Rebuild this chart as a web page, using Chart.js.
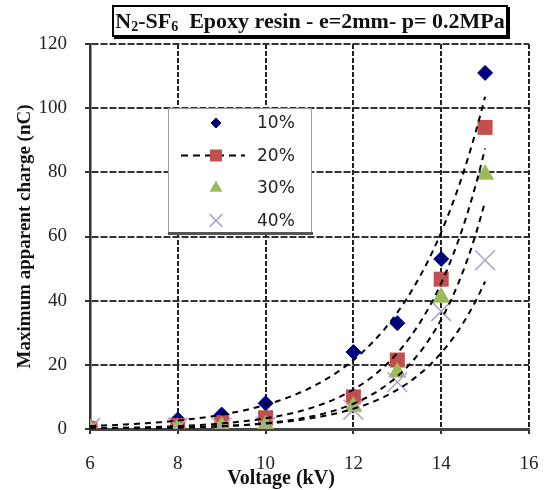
<!DOCTYPE html>
<html>
<head>
<meta charset="utf-8">
<script src="https://cdn.jsdelivr.net/npm/chart.js@4.4.1/dist/chart.umd.min.js"></script>
<style>
  body { margin: 0; background: #fff; }
  #wrap { position: relative; width: 545px; height: 490px; }
  #title {
    position: absolute; left: 112px; top: 5px; width: 396px; height: 32px;
    box-sizing: border-box; border: 2px solid #000; box-shadow: 2px 2px 0 #000;
    font: bold 22px "Liberation Serif", serif; text-align: center; line-height: 28px;
    color: #111; white-space: nowrap;
  }
  #title sub { font-size: 14px; vertical-align: -3px; line-height: 0; }
  #xtitle {
    position: absolute; left: 181px; top: 465px; width: 200px; text-align: center;
    font: bold 20px "Liberation Serif", serif; line-height: 24px; color: #111;
  }
</style>
</head>
<body>
<div id="wrap">
  <canvas id="chart" width="545" height="490"></canvas>
  <div id="title">N<sub>2</sub>-SF<sub>6</sub>&nbsp; Epoxy resin - e=2mm- p= 0.2MPa</div>
  <div id="xtitle">Voltage (kV)</div>
</div>
<script>
// voltage (kV) and maximum apparent charge (nC) for each SF6 content
var voltages = [6, 8, 9, 10, 12, 13, 14, 15];
var q10 = [0.8, 3, 4.5, 8, 24, 33, 53, 111];
var q20 = [0.2, 1.1, 2, 3.5, 10, 21.5, 46.7, 94];
var q30 = [0.15, 0.35, 0.8, 1.2, 7, 17.7, 41, 79.3];
var q40 = [0.3, 0.4, 0.45, 0.7, 6, 14.6, 36.7, 52.6];
var seriesNames = ["10%", "20%", "30%", "40%"];
var xTicks = [6, 8, 10, 12, 14, 16];
var yTicks = [0, 20, 40, 60, 80, 100, 120];

// exponential trendline (least squares on ln y), like Excel
function expFit(xs, ys) {
    var n = xs.length, sx = 0, sy = 0, sxx = 0, sxy = 0;
    for (var i = 0; i < n; i++) {
        var ly = Math.log(ys[i]);
        sx += xs[i]; sy += ly; sxx += xs[i] * xs[i]; sxy += xs[i] * ly;
    }
    var b = (n * sxy - sx * sy) / (n * sxx - sx * sx);
    var a = Math.exp((sy - b * sx) / n);
    return function(x) { return a * Math.exp(b * x); };
}

function points(ys) {
    return voltages.map(function(v, i) { return {x: v, y: ys[i]}; });
}

function trend(ys) {
    var f = expFit(voltages, ys);
    var out = [];
    var x0 = voltages[0], x1 = voltages[voltages.length - 1];
    for (var k = 0; k <= 90; k++) {
        var x = x0 + (x1 - x0) * k / 90;
        out.push({x: x, y: f(x)});
    }
    return out;
}

var styles = [
    {pointStyle: 'rectRot', radius: 7.5, lr: 5, color: '#00007F', width: 1},
    {pointStyle: 'rect', radius: 10.6, lr: 8.5, color: '#C0504D', width: 0},
    {pointStyle: 'triangle', radius: 10.5, lr: 7.5, color: '#9BBB59', width: 0},
    {pointStyle: 'crossRot', radius: 14, lr: 9, color: '#B3A2C7', width: 1.5}
];
var allSeries = [q10, q20, q30, q40];

var datasets = [];
allSeries.forEach(function(s) {
    datasets.push({
        data: trend(s), showLine: true, pointRadius: 0, borderColor: '#000',
        borderWidth: 2, borderDash: [6, 5], tension: 0, order: 0
    });
});
for (var i = 3; i >= 0; i--) {
    datasets.push({
        label: seriesNames[i], data: points(allSeries[i]), showLine: false,
        pointStyle: styles[i].pointStyle, pointRadius: styles[i].radius,
        pointBackgroundColor: styles[i].color, pointBorderColor: styles[i].color,
        pointBorderWidth: styles[i].width, order: 4 - i
    });
}

var boxLegend = {
    id: 'boxLegend',
    afterDatasetsDraw: function(chart) {
        var ctx = chart.ctx;
        var L = 168, T = 108, W = 144, H = 126;
        ctx.save();
        ctx.fillStyle = '#fff';
        ctx.fillRect(L, T, W, H);
        ctx.strokeStyle = '#9a9a9a';
        ctx.lineWidth = 1;
        ctx.strokeRect(L + 0.5, T + 0.5, W - 1, H - 1);
        ctx.fillStyle = '#555';
        ctx.fillRect(L, T + H - 2, W + 1, 3);
        for (var i = 0; i < 4; i++) {
            var y = T + 15 + i * 32.5;
            var mx = L + 48;
            if (i === 1) {
                ctx.strokeStyle = '#000';
                ctx.lineWidth = 2;
                ctx.setLineDash([7, 5]);
                ctx.beginPath();
                ctx.moveTo(L + 13, y);
                ctx.lineTo(L + 77, y);
                ctx.stroke();
                ctx.setLineDash([]);
            }
            ctx.fillStyle = styles[i].color;
            ctx.strokeStyle = styles[i].color;
            ctx.lineWidth = styles[i].width;
            Chart.helpers.drawPoint(ctx, {
                pointStyle: styles[i].pointStyle, radius: styles[i].lr,
                rotation: 0, borderWidth: styles[i].width
            }, mx, y);
            ctx.fillStyle = '#222';
            ctx.font = '17px "DejaVu Sans"';
            ctx.textBaseline = 'middle';
            ctx.textAlign = 'left';
            ctx.fillText(seriesNames[i], L + 89, y + 1);
        }
        ctx.restore();
    }
};

var tickFont = {family: '"Liberation Serif", serif', size: 19};

new Chart(document.getElementById('chart'), {
    type: 'scatter',
    data: {datasets: datasets},
    plugins: [boxLegend],
    options: {
        responsive: false,
        animation: false,
        layout: {padding: {top: 44, right: 16, bottom: 0, left: 0}},
        plugins: {legend: {display: false}, tooltip: {enabled: false}},
        scales: {
            x: {
                type: 'linear', min: 6, max: 16,
                afterBuildTicks: function(s) { s.ticks = xTicks.map(function(v) { return {value: v}; }); },
                afterFit: function(s) { s.height = 61; s.paddingRight = 10; },
                ticks: {font: tickFont, color: '#222', padding: 19},
                grid: {color: '#222', lineWidth: 2, tickLength: 5, tickColor: '#333', tickWidth: 2},
                border: {color: '#444', width: 3, dash: [5, 2]}
            },
            y: {
                min: 0, max: 120,
                afterBuildTicks: function(s) { s.ticks = yTicks.map(function(v) { return {value: v}; }); },
                afterFit: function(s) { s.width = 90; },
                ticks: {font: tickFont, color: '#222', padding: 18},
                grid: {color: '#333', lineWidth: 2, tickLength: 5, tickColor: '#333', tickWidth: 2},
                border: {color: '#333', width: 2.5, dash: [7, 2]},
                title: {
                    display: true, text: 'Maximum apparent charge (nC)', color: '#111',
                    font: {family: '"Liberation Serif", serif', size: 19, weight: 'bold'},
                    padding: {top: 14, bottom: 0}
                }
            }
        }
    }
});
</script>
</body>
</html>
